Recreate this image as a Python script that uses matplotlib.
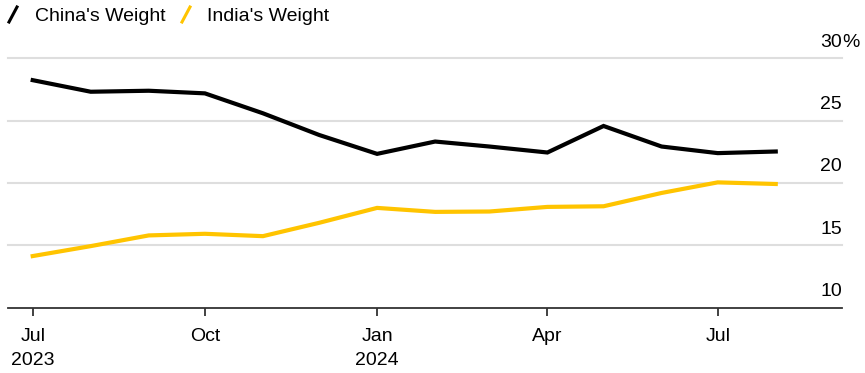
import matplotlib
matplotlib.use("Agg")
import matplotlib.pyplot as plt
import matplotlib.dates as mdates
from matplotlib.lines import Line2D
import numpy as np

plt.rcParams['font.family'] = ['Liberation Sans', 'DejaVu Sans']

# Datos mensuales (jul 2023 - ago 2024)
months = ["2023-07", "2023-08", "2023-09", "2023-10", "2023-11", "2023-12",
          "2024-01", "2024-02", "2024-03", "2024-04", "2024-05", "2024-06",
          "2024-07", "2024-08"]
china = [28.26, 27.33, 27.41, 27.2, 25.6, 23.86, 22.34, 23.33, 22.93, 22.45,
         24.58, 22.93, 22.4, 22.53]
india = [14.13, 14.93, 15.79, 15.92, 15.73, 16.8, 18.0, 17.68, 17.71, 18.08,
         18.13, 19.2, 20.05, 19.92]

tick_dates = ["2023-07", "2023-10", "2024-01", "2024-04", "2024-07"]
tick_labels = ["Jul\n2023", "Oct", "Jan\n2024", "Apr", "Jul"]
y_ticks = [10, 15, 20, 25, 30]
series_names = ["China's Weight", "India's Weight"]
colors = ["#000000", "#FFC400"]

def to_num(s):
    return mdates.date2num(np.datetime64(s + "-01"))

W, H = 865, 373
fig = plt.figure(figsize=(W / 100, H / 100), dpi=100)
ax = fig.add_axes([8 / W, 1 - 307.5 / H, (842 - 8) / W, (307.5 - 58.5) / H])

x = [to_num(m) for m in months]
ax.plot(x, china, color=colors[0], lw=3.0, solid_joinstyle='miter', zorder=3)
ax.plot(x, india, color=colors[1], lw=3.0, solid_joinstyle='miter', zorder=3)

ax.set_xlim(to_num("2023-07") - 13.2, to_num("2024-07") + 66.4)
ax.set_ylim(10, 30)

# lineas de cuadricula
for v in y_ticks[1:]:
    ax.axhline(v, color="#dedede", lw=1.5, zorder=1, clip_on=False)

for s in ["top", "right", "left"]:
    ax.spines[s].set_visible(False)
ax.spines["bottom"].set_color("#333333")
ax.spines["bottom"].set_linewidth(1.3)

ax.set_xticks([to_num(d) for d in tick_dates])
ax.set_xticklabels(tick_labels, fontsize=14, linespacing=1.5, color="#000000")
ax.tick_params(axis="x", length=6, width=1.3, color="#333333", pad=9)
ax.set_yticks([])

# etiquetas del eje y a la derecha
for v in y_ticks:
    ax.text(1.0, v + 0.93, str(v), transform=ax.get_yaxis_transform(),
            ha="right", va="baseline", fontsize=14, color="#000000")
ax.text(1.0, y_ticks[-1] + 0.93, "%", transform=ax.get_yaxis_transform(),
        ha="left", va="baseline", fontsize=14, color="#000000")

# leyenda
legend_x = [(9, 35), (182, 207)]
for (lx, tx), name, c in zip(legend_x, series_names, colors):
    fig.add_artist(Line2D([lx / W, (lx + 8) / W], [1 - 22 / H, 1 - 7 / H],
                          transform=fig.transFigure, color=c, lw=2.2))
    fig.text(tx / W, 1 - 21 / H, name, fontsize=14, ha="left", va="baseline")

fig.savefig("out.png", dpi=100)
